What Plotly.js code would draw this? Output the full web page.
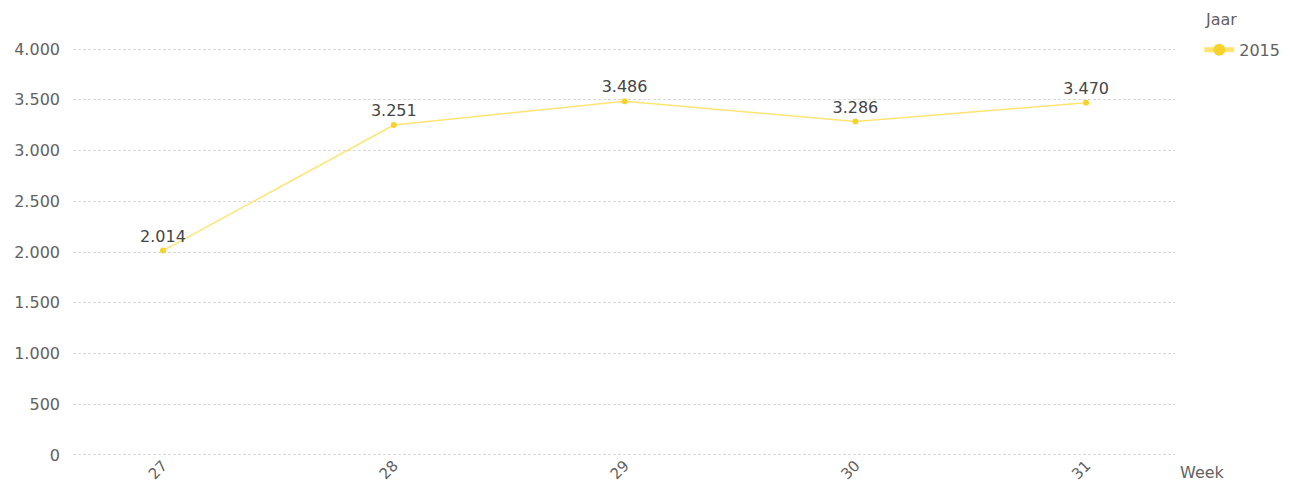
<!DOCTYPE html>
<html>
<head>
<meta charset="utf-8">
<script src="https://cdn.plot.ly/plotly-3.0.1.min.js"></script>
<style>html,body{margin:0;padding:0;background:#fff;}#chart{width:1301px;height:484px;}</style>
</head>
<body>
<div id="chart"></div>
<script>
const weeks = ["27", "28", "29", "30", "31"];
const values2015 = [2014, 3251, 3486, 3286, 3470];
const seriesName = "2015";
const legendTitle = "Jaar";
const xTitle = "Week";
const yTicks = [0, 500, 1000, 1500, 2000, 2500, 3000, 3500, 4000];

const FONT = "DejaVu Sans, sans-serif";
const GREY = "#626262";

const trace = {
  x: weeks,
  y: values2015,
  type: "scatter",
  mode: "lines+markers+text",
  name: seriesName,
  line: {color: "#FFE473", width: 1.5},
  marker: {color: "#F7D22C", size: 6, symbol: "circle"},
  texttemplate: "%{y:,.0f}",
  textposition: "top center",
  textfont: {family: FONT, size: 16, color: "#454545"},
  cliponaxis: false,
  hoverinfo: "x+y"
};

const layout = {
  width: 1301, height: 484,
  margin: {l: 73, r: 126, t: 47, b: 27, autoexpand: false},
  paper_bgcolor: "#fff", plot_bgcolor: "#fff",
  separators: ",.",
  font: {family: FONT, size: 16, color: GREY},
  xaxis: {
    type: "category",
    range: [-0.39, 4.385],
    showgrid: false, zeroline: false, showline: false,
    tickangle: -45, ticks: "",
    ticklabelstandoff: -4,
    tickfont: {family: FONT, size: 15, color: GREY},
    fixedrange: true
  },
  yaxis: {
    range: [-20, 4020],
    tickvals: yTicks,
    showgrid: true, gridcolor: "#d9d9d9", griddash: "3px,2px", gridwidth: 1,
    zeroline: false, showline: false, ticks: "",
    tickformat: ",.0f",
    ticklabelstandoff: 12,
    tickfont: {family: FONT, size: 16, color: GREY},
    fixedrange: true
  },
  showlegend: true,
  legend: {
    x: 1.022, xanchor: "left", y: 0.993, yanchor: "middle",
    font: {family: FONT, size: 16, color: GREY},
    bgcolor: "rgba(0,0,0,0)",
    itemwidth: 30,
    itemsizing: "constant"
  },
  annotations: [
    {
      text: xTitle, xref: "paper", yref: "paper",
      x: 1.003, y: -0.01, xanchor: "left", yanchor: "top",
      showarrow: false, font: {family: FONT, size: 16, color: GREY}
    },
    {
      text: legendTitle, xref: "paper", yref: "paper",
      x: 1.0255, y: 1.066, xanchor: "left", yanchor: "middle",
      showarrow: false, font: {family: FONT, size: 16, color: GREY}
    }
  ]
};

Plotly.newPlot("chart", [trace], layout, {displayModeBar: false, staticPlot: true});
</script>
</body>
</html>
